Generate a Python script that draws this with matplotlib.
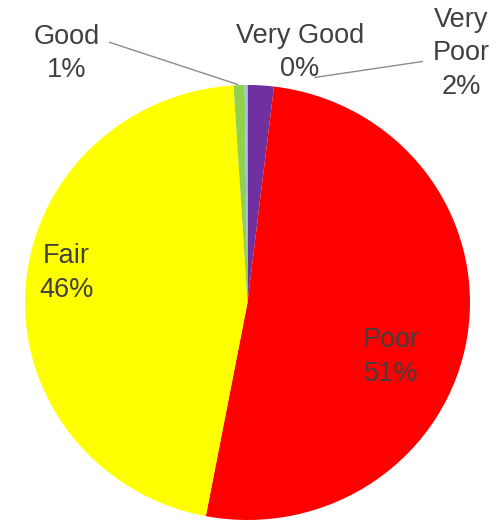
import matplotlib.pyplot as plt

plt.rcParams['font.family'] = ['Liberation Sans', 'DejaVu Sans']

# Condition ratings (percent of sample)
labels = ['Very Poor', 'Poor', 'Fair', 'Good', 'Very Good']
shares = [1.9, 51.1, 46.0, 0.8, 0.2]
colors = ['#7030A0', '#FF0000', '#FFFF00', '#92D050', '#9DC3E6']

fig = plt.figure(figsize=(4.97, 5.31), dpi=100)
ax = fig.add_axes([25 / 497, 11 / 531, 445 / 497, 435 / 531])

wedges, _ = ax.pie(shares, colors=colors, startangle=90, counterclock=False,
                   radius=1, wedgeprops=dict(linewidth=0))
ax.set_aspect('auto')
ax.set_xlim(-1, 1)
ax.set_ylim(-1, 1)

txt = dict(fontsize=19.5, color='#404040', ha='center', va='center',
           linespacing=1.38)
pct = {lab: f"{lab}\n{v:.0f}%" for lab, v in zip(labels, shares)}

# labels inside the two large slices
ax.text(-0.813, 0.136, pct['Fair'], **txt)
ax.text(0.646, -0.251, pct['Poor'], **txt)

# outside labels for the small slices
ax.text(-0.811, 1.145, pct['Good'], clip_on=False, **txt)
ax.text(0.236, 1.150, pct['Very Good'], clip_on=False, **txt)
ax.text(0.962, 1.145, 'Very\nPoor\n' + f"{shares[0]:.0f}%", clip_on=False, **txt)

line = dict(color='#8c8c8c', linewidth=1)
ax.plot([-0.619, -0.043], [1.196, 1.002], clip_on=False, **line)
ax.plot([0.786, 0.304], [1.108, 1.035], clip_on=False, **line)

fig.savefig('out.png', dpi=100, facecolor='white')
